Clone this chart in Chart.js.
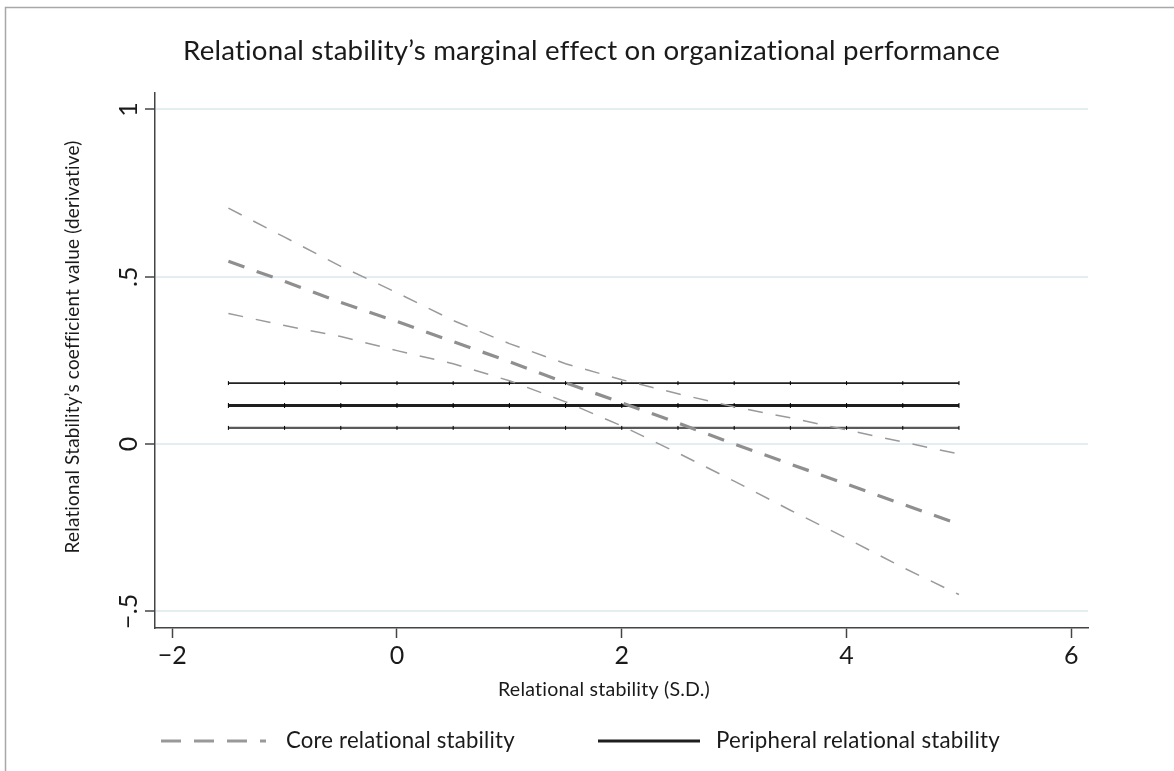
<!DOCTYPE html>
<html><head><meta charset="utf-8">
<script src="https://cdn.jsdelivr.net/npm/chart.js@4.4.1/dist/chart.umd.min.js"></script>
<style>html,body{margin:0;padding:0;background:#fff;}#wrap{width:1174px;height:771px;position:relative;}</style>
</head><body><div id="wrap"><canvas id="c" width="1174" height="771"></canvas></div>
<script>
// ---- data ----
const xValues      = [-1.5, -1, -0.5, 0, 0.5, 1, 1.5, 2, 2.5, 3, 3.5, 4, 4.5, 5];
const coreEstimate = [0.546, 0.486, 0.423, 0.366, 0.306, 0.246, 0.183, 0.123, 0.063, 0.000, -0.060, -0.120, -0.180, -0.240];
const coreUpper    = [0.705, 0.618, 0.531, 0.452, 0.369, 0.300, 0.240, 0.192, 0.150, 0.111, 0.078, 0.042, 0.006, -0.030];
const coreLower    = [0.390, 0.354, 0.321, 0.279, 0.240, 0.189, 0.126, 0.054, -0.027, -0.111, -0.198, -0.282, -0.369, -0.450];
const periEstimate = [0.115, 0.115, 0.115, 0.115, 0.115, 0.115, 0.115, 0.115, 0.115, 0.115, 0.115, 0.115, 0.115, 0.115];
const periUpper    = [0.182, 0.182, 0.182, 0.182, 0.182, 0.182, 0.182, 0.182, 0.182, 0.182, 0.182, 0.182, 0.182, 0.182];
const periLower    = [0.048, 0.048, 0.048, 0.048, 0.048, 0.048, 0.048, 0.048, 0.048, 0.048, 0.048, 0.048, 0.048, 0.048];
const xTicks = [-2, 0, 2, 4, 6];
const xTickLabels = ['\u22122', '0', '2', '4', '6'];
const yTicks = [-0.5, 0, 0.5, 1];
const yTickLabels = ['\u2212.5', '0', '.5', '1'];
const titleText = 'Relational stability\u2019s marginal effect on organizational performance';
const yTitleText = 'Relational Stability\u2019s coefficient value (derivative)';
const xTitleText = 'Relational stability (S.D.)';
const legendLabels = ['Core relational stability', 'Peripheral relational stability'];

const FAMILY = 'Lato, "Open Sans", sans-serif';
const LS = 0.2;
const pts = arr => arr.map((v, i) => ({x: xValues[i], y: v}));

function setFit(ctx, text, targetW) {
  ctx.font = '100px ' + FAMILY;
  const extra = LS * text.length;
  const s = 100 * (targetW - extra) / (ctx.measureText(text).width - extra);
  ctx.font = s.toFixed(2) + 'px ' + FAMILY;
}

const decor = {
  id: 'decor',
  afterDraw(chart) {
    const ctx = chart.ctx;
    const ys = chart.scales.y;
    ctx.save();
    if ('letterSpacing' in ctx) ctx.letterSpacing = LS + 'px';
    // frame
    ctx.strokeStyle = '#a8a8a8'; ctx.lineWidth = 1.5;
    ctx.beginPath(); ctx.moveTo(5.5, 771); ctx.lineTo(5.5, 7.5); ctx.lineTo(1174, 7.5); ctx.stroke();
    ctx.fillStyle = '#1a1a1a';
    // title
    setFit(ctx, titleText, 817);
    ctx.textAlign = 'left'; ctx.textBaseline = 'alphabetic';
    ctx.fillText(titleText, 183, 60);
    // y tick labels (rotated)
    ctx.font = '25px ' + FAMILY;
    ctx.textAlign = 'center'; ctx.textBaseline = 'middle';
    yTicks.forEach((v, i) => {
      const py = ys.getPixelForValue(v);
      ctx.save(); ctx.translate(129, py); ctx.rotate(-Math.PI / 2);
      ctx.fillText(yTickLabels[i], 0, 0); ctx.restore();
    });
    // y title
    setFit(ctx, yTitleText, 413);
    ctx.save(); ctx.translate(73, 347); ctx.rotate(-Math.PI / 2);
    ctx.fillText(yTitleText, 0, 0); ctx.restore();
    // x title
    setFit(ctx, xTitleText, 212);
    ctx.fillText(xTitleText, 604, 690);
    // legend
    ctx.lineWidth = 3;
    ctx.strokeStyle = '#999999'; ctx.setLineDash([20, 13]);
    ctx.beginPath(); ctx.moveTo(161, 741); ctx.lineTo(266, 741); ctx.stroke();
    ctx.setLineDash([]); ctx.strokeStyle = '#1e1e1e';
    ctx.beginPath(); ctx.moveTo(598, 741); ctx.lineTo(700, 741); ctx.stroke();
    ctx.textAlign = 'left';
    setFit(ctx, legendLabels[0], 229);
    ctx.fillText(legendLabels[0], 286, 741);
    setFit(ctx, legendLabels[1], 284);
    ctx.fillText(legendLabels[1], 716, 741);
    ctx.restore();
  }
};

const thinDash = {borderColor: '#9a9a9a', borderWidth: 1.5, borderDash: [15, 13], pointRadius: 0};
const periPts = {pointStyle: 'line', rotation: 90, pointRadius: 2, pointBorderWidth: 1, pointBorderColor: '#000'};
new Chart(document.getElementById('c'), {
  type: 'line',
  data: {
    datasets: [
      Object.assign({label: 'core upper', data: pts(coreUpper)}, thinDash),
      Object.assign({label: 'core lower', data: pts(coreLower)}, thinDash),
      {label: legendLabels[0], data: pts(coreEstimate), borderColor: '#8f8f8f', borderWidth: 3.2, borderDash: [17, 13], pointRadius: 0},
      Object.assign({label: 'peri upper', data: pts(periUpper), borderColor: '#222222', borderWidth: 1.8}, periPts),
      Object.assign({label: legendLabels[1], data: pts(periEstimate), borderColor: '#1e1e1e', borderWidth: 3}, periPts, {pointRadius: 2.5}),
      Object.assign({label: 'peri lower', data: pts(periLower), borderColor: '#5a5a5a', borderWidth: 2.2}, periPts)
    ]
  },
  options: {
    responsive: false, animation: false, devicePixelRatio: 1,
    layout: {padding: {top: 93, right: 86, left: 0, bottom: 0}},
    plugins: {legend: {display: false}, title: {display: false}, tooltip: {enabled: false}},
    elements: {line: {tension: 0, fill: false}},
    scales: {
      x: {
        type: 'linear', min: -2.153, max: 6.148,
        afterBuildTicks: sc => { sc.ticks = xTicks.map(v => ({value: v})); },
        afterFit: sc => { sc.height = 143; },
        ticks: {callback: (v) => xTickLabels[xTicks.indexOf(v)], color: '#1a1a1a', font: {family: FAMILY, size: 25}, padding: 3, maxRotation: 0, minRotation: 0},
        grid: {drawOnChartArea: false, tickColor: '#444', tickLength: 10, tickWidth: 1.5},
        border: {display: true, color: '#444', width: 1.5}
      },
      y: {
        type: 'linear', min: -0.55, max: 1.049,
        afterBuildTicks: sc => { sc.ticks = yTicks.map(v => ({value: v})); },
        afterFit: sc => { sc.width = 155; },
        ticks: {display: false},
        grid: {color: '#e4edf2', lineWidth: 2, tickColor: '#444', tickLength: 10, tickWidth: 1.5},
        border: {display: true, color: '#444', width: 1.5}
      }
    }
  },
  plugins: [decor]
});
</script></body></html>
